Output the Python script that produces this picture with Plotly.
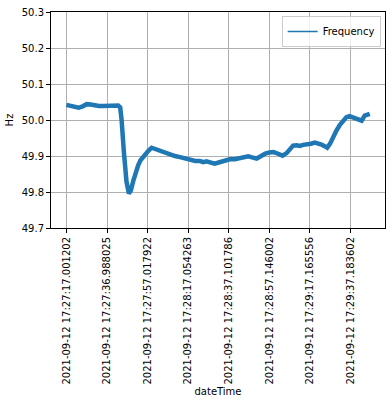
import plotly.graph_objects as go

# seconds since first sample
t_sec = [0, 2, 4, 6, 8, 10, 12, 14, 16, 18, 20, 22, 24, 25.5, 26.5, 27.2, 28.3, 29.6,
         30.8, 31.8, 32.9, 34, 35.4, 36.5, 37.8, 39, 40.5, 42, 43.5, 45.2, 47, 48.5,
         51, 53.5, 56, 58.5, 61, 63.5, 65.8, 67.5, 69, 71, 73, 75, 76.5, 78.5, 80.5,
         83, 85.5, 87.5, 89.6, 91.5, 93.7, 96, 98, 100, 102, 104, 106.5, 108.5, 110,
         111.7, 113.5, 115, 116.7, 118.5, 120.5, 122.4, 124, 125.7, 127, 128.5, 130,
         131.4, 133, 134.7, 136.3, 138, 139.5, 141.3, 143, 144.6, 145.5, 147, 148.5, 149.5]
freq = [50.042, 50.040, 50.036, 50.034, 50.038, 50.044, 50.043, 50.040, 50.039, 50.039,
        50.040, 50.039, 50.041, 50.040, 50.035, 50.000, 49.912, 49.829,
        49.796, 49.805, 49.830, 49.855, 49.875, 49.888, 49.898, 49.905, 49.915, 49.923,
        49.920, 49.914, 49.911, 49.910,
        49.903, 49.900, 49.897, 49.893, 49.887, 49.886, 49.886, 49.883, 49.885, 49.883,
        49.879, 49.882, 49.885, 49.888, 49.891,
        49.891, 49.893, 49.896, 49.899, 49.896, 49.893, 49.900, 49.907, 49.910, 49.911,
        49.907, 49.901, 49.908, 49.920,
        49.929, 49.930, 49.928, 49.931, 49.931, 49.934, 49.937, 49.935, 49.932, 49.928,
        49.923, 49.935,
        49.955, 49.970, 49.986, 49.998, 50.008, 50.011, 50.008, 50.004, 50.000, 49.998,
        50.012, 50.017, 50.017]

tick_pos = [0, 20, 40, 60, 80, 100, 120, 140]
tick_labels = ["2021-09-12 17:27:17.001202", "2021-09-12 17:27:36.988025",
               "2021-09-12 17:27:57.017922", "2021-09-12 17:28:17.054263",
               "2021-09-12 17:28:37.101786", "2021-09-12 17:28:57.146002",
               "2021-09-12 17:29:17.165556", "2021-09-12 17:29:37.183602"]

fig = go.Figure()
fig.add_trace(go.Scatter(x=t_sec, y=freq, mode="lines", name="Frequency",
                         showlegend=False,
                         line=dict(color="#1f77b4", width=4.5)))
# legend entry drawn with matplotlib-like thin line
fig.add_trace(go.Scatter(x=[None], y=[None], mode="lines", name="Frequency",
                         line=dict(color="#1f77b4", width=1.5)))

font = dict(family="DejaVu Sans", size=10, color="#000000")
fig.update_layout(
    width=392, height=404,
    margin=dict(l=51, r=7, t=12, b=176, pad=0),
    paper_bgcolor="white", plot_bgcolor="white",
    font=font,
    showlegend=True,
    legend=dict(x=0.987, y=0.982, xanchor="right", yanchor="top",
                bgcolor="rgba(255,255,255,0.8)", bordercolor="#cccccc", borderwidth=1,
                font=font, itemwidth=30, tracegroupgap=0),
    xaxis=dict(range=[-7.6, 157], tickmode="array", tickvals=tick_pos, ticktext=tick_labels,
               tickangle=-90, showgrid=True, gridcolor="#b0b0b0", gridwidth=0.8,
               showline=True, linecolor="black", linewidth=1, mirror=True,
               ticks="outside", ticklen=4, tickcolor="black", zeroline=False,
               automargin=False,
               title=dict(text="dateTime", font=font, standoff=4)),
    yaxis=dict(range=[49.7, 50.3], dtick=0.1, tick0=49.7, tickformat=".1f",
               showgrid=True, gridcolor="#b0b0b0", gridwidth=0.8,
               showline=True, linecolor="black", linewidth=1, mirror=True,
               ticks="outside", ticklen=4, tickcolor="black", zeroline=False,
               automargin=False, ticklabeloverflow="allow",
               title=dict(text="Hz", font=font, standoff=6)),
)
fig.write_html("out.html", config={"displayModeBar": False},
               post_script="document.body.style.margin='0';")
